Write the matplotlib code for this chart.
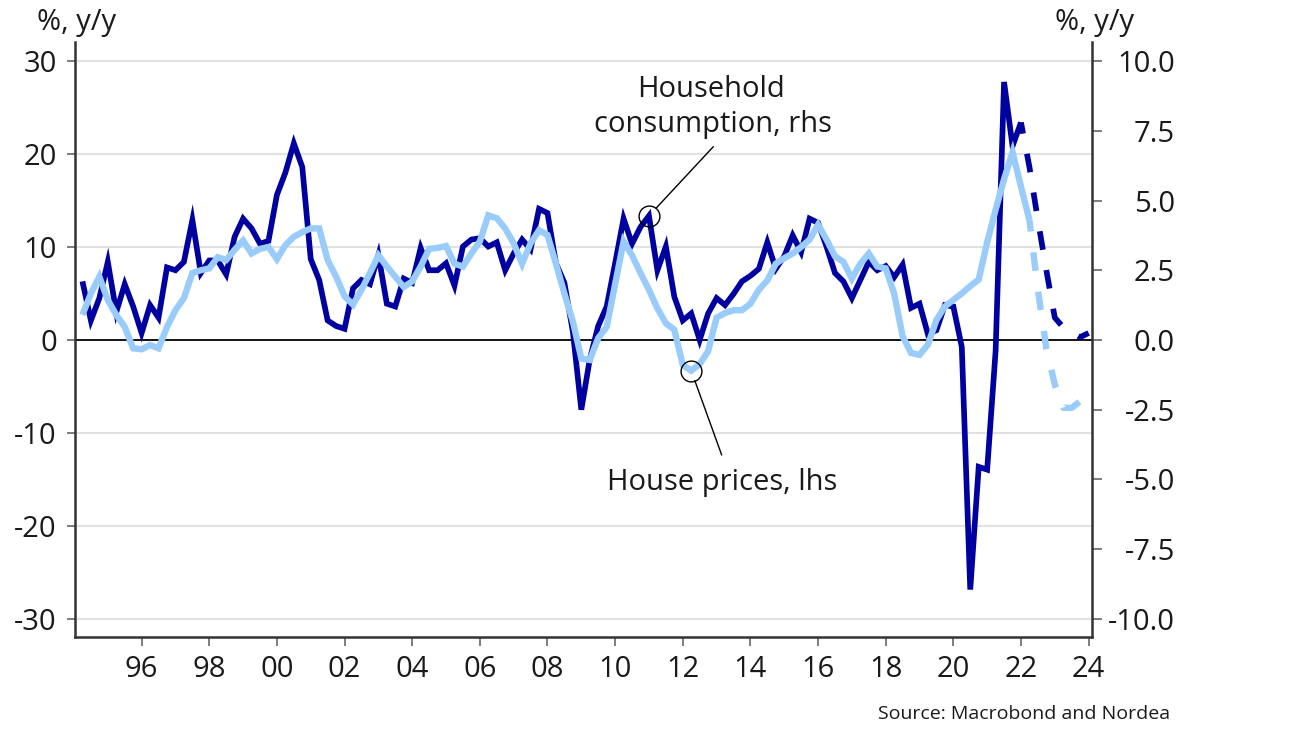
import numpy as np
import matplotlib
matplotlib.use("Agg")
import matplotlib.pyplot as plt

plt.rcParams['font.family'] = ['Open Sans', 'DejaVu Sans']

# ---------------- data ----------------
start_year = 1994.25          # first quarter (plotted at quarter end)
step = 0.25

# Household consumption, % y/y (rhs) - actual
consumption = [2.1, 0.7, 1.5, 2.8, 1.0, 2.0, 1.2, 0.25, 1.25, 0.8,
               2.6, 2.5, 2.8, 4.3, 2.4, 2.85, 2.85, 2.35, 3.7, 4.35,
               4.0, 3.45, 3.55, 5.2, 6.0, 7.05, 6.2, 2.9, 2.15, 0.7,
               0.5, 0.4, 1.85, 2.15, 2.0, 3.05, 1.3, 1.2, 2.2, 2.05,
               3.3, 2.5, 2.5, 2.75, 1.95, 3.35, 3.6, 3.65, 3.35, 3.5,
               2.5, 3.1, 3.6, 3.25, 4.7, 4.55, 2.75, 2.05, 0.3, -2.5,
               -0.7, 0.5, 1.2, 2.75, 4.35, 3.45, 4.05, 4.45, 2.5, 3.35,
               1.55, 0.7, 0.95, 0.0, 0.95, 1.5, 1.25, 1.65, 2.1, 2.3,
               2.55, 3.5, 2.55, 3.0, 3.75, 3.15, 4.35, 4.2, 3.35, 2.4,
               2.1, 1.5, 2.15, 2.8, 2.5, 2.65, 2.25, 2.7, 1.15, 1.3,
               0.2, 0.35, 1.25, 1.2, -0.25, -8.95, -4.55, -4.65, -0.4, 9.25,
               6.95, 7.8]
# Household consumption forecast (rhs), starting at last actual quarter
consumption_fc = [7.8, 6.2, 4.3, 2.5, 0.8, 0.45, 0.3, 0.1, 0.25]

# House prices, % y/y (lhs) - actual
house_prices = [2.7, 5.0, 6.8, 4.3, 2.7, 1.4, -0.9, -1.0, -0.55, -0.9,
                1.4, 3.2, 4.5, 7.2, 7.5, 7.7, 8.9, 8.6, 9.7, 10.7,
                9.3, 9.8, 10.0, 8.7, 10.2, 11.1, 11.6, 12.0, 12.0, 8.6,
                6.8, 4.7, 3.8, 5.4, 7.2, 9.1, 7.9, 6.8, 5.7, 6.3,
                7.9, 9.8, 9.9, 10.1, 8.2, 7.9, 9.3, 10.6, 13.4, 13.1,
                12.0, 10.4, 8.2, 10.4, 11.8, 11.3, 8.2, 5.0, 2.0, -2.0,
                -2.15, 0.2, 1.4, 6.0, 10.6, 9.1, 7.2, 5.4, 3.4, 1.8,
                1.1, -2.7, -3.3, -2.6, -1.2, 2.4, 2.9, 3.2, 3.2, 3.9,
                5.4, 6.4, 8.2, 8.8, 9.3, 10.0, 10.8, 12.4, 10.8, 9.0,
                8.4, 6.6, 8.2, 9.3, 7.9, 7.7, 5.0, 0.4, -1.4, -1.6,
                -0.5, 2.15, 3.6, 4.3, 5.0, 5.8, 6.5, 10.5, 14.0, 17.3,
                20.2, 16.5, 12.9]
# House price forecast (lhs), starting at last actual quarter
house_prices_fc = [12.9, 5.4, -0.9, -4.8, -7.3, -7.3, -6.6, -5.5]

left_ticks = [-30, -20, -10, 0, 10, 20, 30]
left_labels = ["-30", "-20", "-10", "0", "10", "20", "30"]
right_ticks = [-10, -7.5, -5, -2.5, 0, 2.5, 5, 7.5, 10]
right_labels = ["-10.0", "-7.5", "-5.0", "-2.5", "0.0", "2.5", "5.0", "7.5", "10.0"]
year_ticks = list(range(1996, 2025, 2))
year_labels = ["%02d" % (y % 100) for y in year_ticks]

# ---------------- x positions ----------------
n_c = len(consumption)
n_h = len(house_prices)
x_c = start_year + step * np.arange(n_c)
x_h = start_year + step * np.arange(n_h)
x_cfc = start_year + step * (n_c - 1 + np.arange(len(consumption_fc)))
x_hfc = start_year + step * (n_h - 1 + np.arange(len(house_prices_fc)))

# ---------------- styles ----------------
DARK = '#0000A0'
LIGHT = '#99CCFA'
TXT = '#1a1a1a'
SPINE = '#333333'
W, H = 1300, 731

fig = plt.figure(figsize=(W / 100, H / 100), dpi=100)
fig.patch.set_facecolor('white')
rect = [75 / W, 1 - 637 / H, (1092 - 75) / W, (637 - 42) / H]
axR = fig.add_axes(rect)
axL = axR.twinx()
axL.yaxis.tick_left()
axR.yaxis.tick_right()

axR.set_xlim(1994.03, 2024.1)
axL.set_ylim(-31.95, 32.05)
axR.set_ylim(-31.95 / 3, 32.05 / 3)

# grid lines + zero line (left-axis positions), drawn at bottom
axR.hlines([t for t in left_ticks if t != 0], 0, 1,
           transform=axL.get_yaxis_transform(), colors='#e2e2e2',
           linewidth=1.5, zorder=0)
axR.hlines([0], 0, 1, transform=axL.get_yaxis_transform(),
           colors='black', linewidth=1.3, zorder=1)

# consumption (rhs)
axR.plot(x_c, consumption, color=DARK, lw=4.1, solid_joinstyle='miter',
         solid_capstyle='butt', zorder=3)
axR.plot(x_cfc, consumption_fc, color=DARK, lw=4.1,
         linestyle=(1.3, (3.3, 3.6)), dash_capstyle='butt', zorder=3)

# house prices (lhs), on top
axL.plot(x_h, house_prices, color=LIGHT, lw=4.6, solid_joinstyle='miter',
         solid_capstyle='butt', zorder=3)
axL.plot(x_hfc, house_prices_fc, color=LIGHT, lw=4.6,
         linestyle=(1.1, (2.9, 3.3)), dash_capstyle='butt', zorder=3)

# spines
for s in ['top', 'left']:
    axR.spines[s].set_visible(False)
for s in ['top', 'right', 'bottom']:
    axL.spines[s].set_visible(False)
axR.spines['right'].set_color(SPINE)
axR.spines['right'].set_linewidth(1.8)
axR.spines['bottom'].set_color(SPINE)
axR.spines['bottom'].set_linewidth(1.8)
axL.spines['left'].set_color(SPINE)
axL.spines['left'].set_linewidth(1.8)

# ticks
axL.set_yticks(left_ticks)
axL.set_yticklabels(left_labels)
axL.tick_params(axis='y', length=5.8, width=1.2, color='#666666',
                labelsize=21, labelcolor=TXT, pad=7.2)
axR.set_yticks(right_ticks)
axR.set_yticklabels(right_labels)
axR.tick_params(axis='y', length=7, width=1.2, color='#666666',
                labelsize=21, labelcolor=TXT, pad=52.8)
for lab in axR.get_yticklabels():
    lab.set_horizontalalignment('right')
axR.set_xticks(year_ticks)
axR.set_xticklabels(year_labels)
axR.tick_params(axis='x', length=6.3, width=1.2, color='#666666',
                labelsize=21, labelcolor=TXT, pad=7.0)

# axis unit labels
fig.text(36.7 / W, 1 - 30 / H, "%, y/y", fontsize=21, color=TXT,
         ha='left', va='baseline')
fig.text(1055 / W, 1 - 30 / H, "%, y/y", fontsize=21, color=TXT,
         ha='left', va='baseline')

# annotations
ic = 67
ih = 72
axR.plot([x_c[ic]], [consumption[ic]], marker='o', ms=15, mfc='none',
         mec='black', mew=1.0, zorder=5, clip_on=False)
axL.plot([x_h[ih]], [house_prices[ih]], marker='o', ms=15, mfc='none',
         mec='black', mew=1.0, zorder=5, clip_on=False)
axR.annotate('', xy=(x_c[ic], consumption[ic]), xycoords='data',
             xytext=(713.3, H - 146.7), textcoords='figure pixels',
             arrowprops=dict(arrowstyle='-', color='black', lw=1.0,
                             shrinkA=0, shrinkB=7.5),
             annotation_clip=False)
axL.annotate('', xy=(x_h[ih], house_prices[ih]), xycoords='data',
             xytext=(721.7, H - 455), textcoords='figure pixels',
             arrowprops=dict(arrowstyle='-', color='black', lw=1.0,
                             shrinkA=0, shrinkB=7.5),
             annotation_clip=False)

fig.text(711 / W, 1 - 96.7 / H, "Household", fontsize=21, color=TXT,
         ha='center', va='baseline')
fig.text(712.5 / W, 1 - 131.7 / H, "consumption, rhs", fontsize=21,
         color=TXT, ha='center', va='baseline')
fig.text(721.7 / W, 1 - 490 / H, "House prices, lhs", fontsize=21,
         color=TXT, ha='center', va='baseline')

fig.text(1170 / W, 1 - 719 / H, "Source: Macrobond and Nordea",
         fontsize=14, color=TXT, ha='right', va='baseline')

fig.savefig('out.png', dpi=100, facecolor='white')
